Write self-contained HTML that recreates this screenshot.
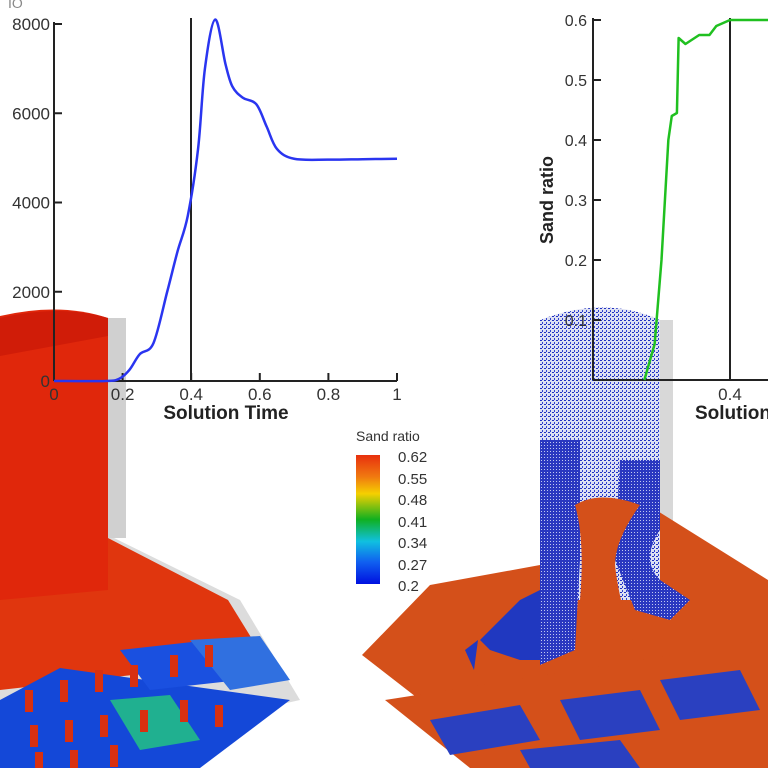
<!DOCTYPE html>
<html><head><meta charset="utf-8"><style>
html,body{margin:0;padding:0;background:#fff;}
svg{display:block;font-family:"Liberation Sans",sans-serif;}
</style></head><body>
<svg id="s" width="768" height="768" viewBox="0 0 768 768" xmlns="http://www.w3.org/2000/svg">
<defs>
<linearGradient id="cb" x1="0" y1="0" x2="0" y2="1">
<stop offset="0" stop-color="#e8300e"/><stop offset="0.17" stop-color="#f07a10"/><stop offset="0.3" stop-color="#f5d000"/><stop offset="0.5" stop-color="#10b020"/><stop offset="0.67" stop-color="#10c0e0"/><stop offset="0.83" stop-color="#1060f0"/><stop offset="1" stop-color="#0010e0"/>
</linearGradient>
<pattern id="dots" width="4" height="4" patternUnits="userSpaceOnUse"><rect width="4" height="4" fill="#dde0f2"/><rect x="0" y="0" width="2" height="1" fill="#2030c0"/><rect x="2" y="2" width="1" height="2" fill="#3040d0"/></pattern>
<pattern id="dots2" width="3" height="3" patternUnits="userSpaceOnUse"><rect width="3" height="3" fill="#2a38c0"/><rect x="1" y="1" width="1" height="1" fill="#c0c8f0"/></pattern>
</defs>
<g>
<polygon points="0,545 108,535 240,600 300,700 0,768" fill="#dcdcdc"/>
<polygon points="0,548 108,538 228,600 265,660 0,690" fill="#e0360e"/>
<rect x="108" y="318" width="18" height="220" fill="#d0d0d0"/>
<path d="M0,316 Q60,302 108,318 L108,590 L0,600 Z" fill="#e0270b"/>
<path d="M0,318 Q60,304 108,318 L108,336 L0,356 Z" fill="#d01c08"/>
<g>
<polygon points="0,700 60,668 290,700 200,768 0,768" fill="#1448d8"/>
<polygon points="110,700 170,695 200,740 140,750" fill="#20b090"/>
<polygon points="120,650 210,640 240,680 150,690" fill="#1a50e0"/>
<polygon points="190,640 260,636 290,680 230,690" fill="#3070e0"/>
</g>
<g fill="#d83010">
<rect x="205" y="645" width="8" height="22"/><rect x="170" y="655" width="8" height="22"/><rect x="130" y="665" width="8" height="22"/><rect x="95" y="670" width="8" height="22"/><rect x="60" y="680" width="8" height="22"/><rect x="25" y="690" width="8" height="22"/>
<rect x="215" y="705" width="8" height="22"/><rect x="180" y="700" width="8" height="22"/><rect x="140" y="710" width="8" height="22"/><rect x="100" y="715" width="8" height="22"/><rect x="65" y="720" width="8" height="22"/><rect x="30" y="725" width="8" height="22"/>
<rect x="110" y="745" width="8" height="22"/><rect x="70" y="750" width="8" height="18"/><rect x="35" y="752" width="8" height="16"/>
</g>
</g>
<g>
<rect x="655" y="320" width="18" height="230" fill="#d8d8d8"/>
<polygon points="362,655 430,585 540,565 640,500 768,580 768,690 420,700" fill="#d4501a"/>
<path d="M540,320 Q605,295 660,320 L660,600 L540,600 Z" fill="url(#dots)"/>
<path d="M540,440 L580,440 L580,560 L575,650 L540,665 Z" fill="url(#dots2)"/>
<path d="M620,460 L660,460 L660,530 Q640,560 660,580 L690,600 L670,620 L635,610 L615,560 Z" fill="url(#dots2)"/>
<path d="M575,505 Q600,490 640,505 Q615,540 615,565 Q620,610 640,660 L580,660 L580,600 Q585,540 575,505 Z" fill="#d4501a"/>
<polygon points="480,640 520,600 540,590 540,660 520,660 490,650" fill="#2038c0"/>
<polygon points="465,650 478,640 474,670" fill="#2038c0"/>
<g>
<polygon points="385,700 768,640 768,768 470,768" fill="#d4501a"/>
<polygon points="430,720 520,705 540,740 450,755" fill="#2a40c0"/>
<polygon points="560,700 640,690 660,730 580,740" fill="#2a40c0"/>
<polygon points="660,680 740,670 760,710 680,720" fill="#2a40c0"/>
<polygon points="520,750 620,740 640,768 530,768" fill="#2a40c0"/>
</g>
</g>
<g>
<text x="356" y="441" font-size="14" fill="#333">Sand ratio</text>
<rect x="356" y="455" width="24" height="129" fill="url(#cb)"/>
<g font-size="15" fill="#333">
<text x="398" y="462">0.62</text><text x="398" y="484">0.55</text><text x="398" y="505">0.48</text><text x="398" y="527">0.41</text><text x="398" y="548">0.34</text><text x="398" y="570">0.27</text><text x="398" y="591">0.2</text>
</g>
</g>
<g id="left"></g>
<g id="right"></g>
<text x="8" y="8" font-size="14" fill="#888">IO</text>
</svg>
<script>
const leftX=[0,0.15,0.19,0.22,0.25,0.29,0.33,0.36,0.39,0.42,0.44,0.47,0.5,0.52,0.55,0.59,0.62,0.65,0.7,0.8,0.9,1];
const leftY=[0,0,50,250,600,850,2000,2900,3700,5200,7000,8100,7100,6600,6350,6200,5700,5200,4980,4960,4970,4980];
const leftYTicks=[0,2000,4000,6000,8000];
const leftXTicks=[0,0.2,0.4,0.6,0.8,1];
const rightX=[0.15,0.18,0.2,0.22,0.23,0.245,0.25,0.27,0.31,0.34,0.36,0.4,0.5,0.6];
const rightY=[0,0.06,0.2,0.4,0.44,0.445,0.57,0.56,0.575,0.575,0.59,0.6,0.6,0.6];
const rightYTicks=[0.1,0.2,0.3,0.4,0.5,0.6];
const rightXTicks=[0.4];
const NS="http://www.w3.org/2000/svg";
function mk(p,t,a){const e=document.createElementNS(NS,t);for(const k in a)e.setAttribute(k,a[k]);p.appendChild(e);return e;}
function smooth(pts){let d='M'+pts[0][0]+','+pts[0][1];for(let i=0;i<pts.length-1;i++){const p0=pts[Math.max(0,i-1)],p1=pts[i],p2=pts[i+1],p3=pts[Math.min(pts.length-1,i+2)];const c1=[p1[0]+(p2[0]-p0[0])/6,p1[1]+(p2[1]-p0[1])/6],c2=[p2[0]-(p3[0]-p1[0])/6,p2[1]-(p3[1]-p1[1])/6];d+=' C'+c1+' '+c2+' '+p2;}return d;}
const L=document.getElementById('left');
const lx=v=>54+v*343, ly=v=>381-v*357/8000;
mk(L,'line',{x1:54,y1:381,x2:397,y2:381,stroke:'#222','stroke-width':2});
mk(L,'line',{x1:54,y1:381,x2:54,y2:22,stroke:'#222','stroke-width':2});
mk(L,'line',{x1:191,y1:381,x2:191,y2:18,stroke:'#222','stroke-width':2});
for(const t of leftYTicks){
 const tk=mk(L,'line',{x1:54,y1:ly(t),x2:62,y2:ly(t),stroke:'#222','stroke-width':2});
 
 
 const tx=mk(L,'text',{x:50,y:ly(t)+6,'font-size':17,'text-anchor':'end',fill:'#333'});tx.textContent=t;
 
 
}
for(const t of leftXTicks){
 mk(L,'line',{x1:lx(t),y1:381,x2:lx(t),y2:373,stroke:'#222','stroke-width':2});
 const tx=mk(L,'text',{x:lx(t),y:400,'font-size':17,'text-anchor':'middle',fill:'#333'});tx.textContent=t;
 
 
}
const lt=mk(L,'text',{x:226,y:419,'font-size':19,'font-weight':'bold','text-anchor':'middle',fill:'#222'});lt.textContent='Solution Time';


const lp=mk(L,'path',{d:smooth(leftX.map((v,i)=>[lx(v),ly(leftY[i])])),fill:'none',stroke:'#2a35f0','stroke-width':2.5,'stroke-linejoin':'round'});


const R=document.getElementById('right');
const rx=v=>593+v*342.5, ry=v=>380-v*600;
mk(R,'line',{x1:593,y1:380,x2:768,y2:380,stroke:'#222','stroke-width':2});
mk(R,'line',{x1:593,y1:380,x2:593,y2:18,stroke:'#222','stroke-width':2});
mk(R,'line',{x1:730,y1:380,x2:730,y2:18,stroke:'#222','stroke-width':2});
for(const t of rightYTicks){
 mk(R,'line',{x1:593,y1:ry(t),x2:601,y2:ry(t),stroke:'#222','stroke-width':2});
 const tx=mk(R,'text',{x:587,y:ry(t)+6,'font-size':16,'text-anchor':'end',fill:'#333'});tx.textContent=t;
 
 
}
for(const t of rightXTicks){
 const tx=mk(R,'text',{x:rx(t),y:400,'font-size':17,'text-anchor':'middle',fill:'#333'});tx.textContent=t;
 
 
}
const rt=mk(R,'text',{x:695,y:419,'font-size':19,'font-weight':'bold',fill:'#222'});rt.textContent='Solution Time';


const ryt=mk(R,'text',{x:553,y:200,'font-size':18,'font-weight':'bold','text-anchor':'middle',fill:'#222',transform:'rotate(-90 553 200)'});ryt.textContent='Sand ratio';


const rp=mk(R,'polyline',{points:rightX.map((v,i)=>rx(v)+','+ry(rightY[i])).join(' '),fill:'none',stroke:'#20c020','stroke-width':2.5,'stroke-linejoin':'round'});


</script>
</body></html>
